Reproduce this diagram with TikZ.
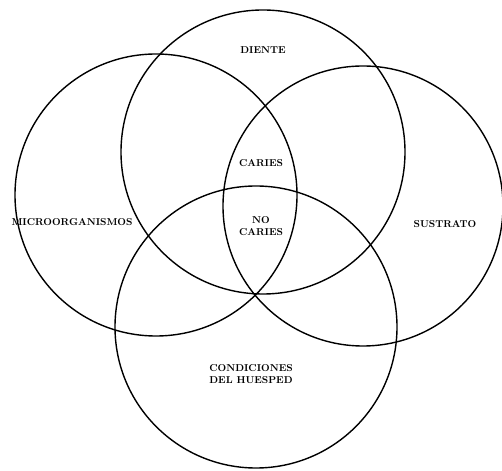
\documentclass[tikz,border=0pt]{standalone}
\usepackage{tikz}
\usetikzlibrary{positioning}

\begin{document}
\begin{tikzpicture}[x=1pt, y=1pt,
  ring/.style={draw, line width=1.4pt, circle, inner sep=0pt, minimum size=282pt},
  lbl/.style={font=\normalsize\bfseries, align=center, inner sep=1pt}
]
  \useasboundingbox (0,0) rectangle (502,470);

  % the four factors
  \node[ring, minimum size=284pt] (diente) at (263,318) {};
  \node[ring]                     (micro)  at (156,275) {};
  \node[ring, minimum size=280pt] (sustr)  at (363,264) {};
  \node[ring]                     (huesp)  at (256,143) {};

  \node[lbl] (tDiente) at (263,420) {DIENTE};
  \node[lbl] (tMicro)  at (72,248)  {MICROORGANISMOS};
  \node[lbl] (tSustr)  at (445,246) {SUSTRATO};
  \node[lbl] (tHuesp)  at (251,96)  {CONDICIONES\\DEL HUESPED};

  % overlaps
  \node[lbl] (caries)   at (261,307) {CARIES};
  \node[lbl] (nocaries) at (261,244) {NO\\CARIES};
\end{tikzpicture}
\end{document}
